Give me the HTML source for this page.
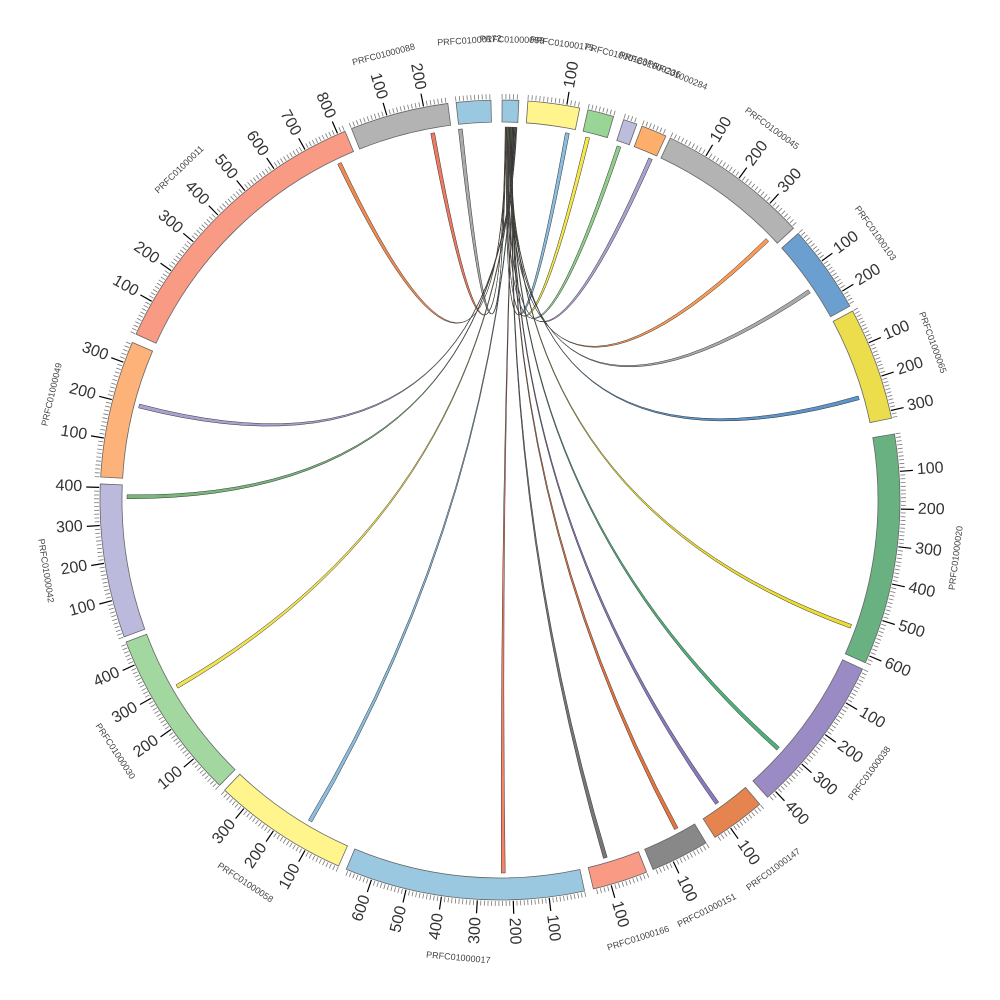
<!DOCTYPE html>
<html><head><meta charset="utf-8"><style>
html,body{margin:0;padding:0;background:#fff;}
svg{display:block;font-family:"Liberation Sans",sans-serif;}
</style></head><body>
<svg id="s" width="1000" height="1000" viewBox="0 0 1000 1000" xmlns="http://www.w3.org/2000/svg"></svg>
<script>
var S=document.getElementById('s');
var CX=500,CY=500,RI=378,RO=400,RC=373;
var segs=[
["PRFC01000089",0.3,2.7,"#9ac8e0"],
["PRFC01000175",4,11.5,"#fff58c",0.056],
["PRFC01000183",12.7,16.5,"#99d594"],
["PRFC01000236",18,20,"#bcbddc"],
["PRFC01000284",20.8,24.5,"#fdae6b"],
["PRFC01000045",25.2,47.2,"#b3b3b3",0.057],
["PRFC01000103",48.2,61,"#6a9fcf",0.052],
["PRFC01000065",61.8,78.2,"#ecdd4c",0.051],
["PRFC01000020",80.5,114,"#6ab181",0.054],
["PRFC01000038",115,138,"#9b8bc4",0.054],
["PRFC01000147",139.5,147.5,"#e5844f"],
["PRFC01000151",149,157.5,"#888888"],
["PRFC01000166",158.5,166.5,"#f99a85"],
["PRFC01000017",167.8,202.6,"#9ac8e0",0.0515],
["PRFC01000058",203.8,223.5,"#fff58c",0.053],
["PRFC01000030",224.5,249.2,"#a2d7a0",0.053],
["PRFC01000042",250,272.3,"#bbb9dc",0.0545],
["PRFC01000049",273.3,293.2,"#fdb279",0.056],
["PRFC01000011",294.5,337.2,"#f99a85",0.052],
["PRFC01000088",338.2,352.5,"#b3b3b3",0.054],
["PRFC01000172",353.7,358.7,"#9ac8e0"]];
function P(r,a){a=a*Math.PI/180;return [CX+r*Math.sin(a),CY-r*Math.cos(a)];}
function f(p){return p[0].toFixed(2)+","+p[1].toFixed(2);}
var h="";
var chords=[
[349.6,"#f07a60"],[353.9,"#aaaaaa"],[334.5,"#f08a50"],[10.4,"#8abde0"],
[13.6,"#f5e84a"],[18.6,"#8fcf8a"],[23.8,"#a9a2d0"],[45.8,"#f99a55"],
[56,"#aaaaaa"],[74.1,"#5b95cc"],[109.8,"#ecdd30"],[131.8,"#4fae7a"],
[144.4,"#8b79c0"],[151.8,"#e5743f"],[163.6,"#777777"],[179.5,"#f7826a"],
[210.6,"#8abde0"],[240,"#f2e350"],[270.5,"#77b77a"],[284.6,"#a9a2d0"]];
chords.forEach(function(c,i){
 var w=0.6,a=c[0]-w/2,b=c[0]+w/2;
 var a1=0.8+i*0.09, a2=a1+0.1;
 var p1=P(RC,a),p2=P(RC,b),q1=P(RC,a1),q2=P(RC,a2);
 h+='<path d="M'+f(p1)+' A'+RC+','+RC+' 0 0 1 '+f(p2)+' Q500,500 '+f(q1)+' A'+RC+','+RC+' 0 0 1 '+f(q2)+' Q500,500 '+f(p1)+'Z" fill="'+c[1]+'" stroke="#333" stroke-width="0.5"/>';
});
segs.forEach(function(s){
 var a=s[1],b=s[2],U=s[4]||0.054,large=(b-a)>180?1:0;
 h+='<path d="M'+f(P(RO,a))+' A'+RO+','+RO+' 0 '+large+' 1 '+f(P(RO,b))+' L'+f(P(RI,b))+' A'+RI+','+RI+' 0 '+large+' 0 '+f(P(RI,a))+'Z" fill="'+s[3]+'" stroke="#666" stroke-width="0.8"/>';
 var L=(b-a)/U;
 for(var v=0;v<=L;v+=10){
  var ang=a+v*U, maj=(v%100==0&&v>0);
  var p1=P(RO+1,ang),p2=P(RO+(maj?14:6),ang);
  h+='<line x1="'+p1[0].toFixed(1)+'" y1="'+p1[1].toFixed(1)+'" x2="'+p2[0].toFixed(1)+'" y2="'+p2[1].toFixed(1)+'" stroke="'+(maj?'#000':'#777')+'" stroke-width="'+(maj?1.2:0.8)+'"/>';
  if(maj&&(b-a)>7){
   var lp=P(RO+18,ang),rot,anc;
   if(ang<180){rot=ang-90;anc="start";}else{rot=ang-270;anc="end";}
   h+='<text x="'+lp[0].toFixed(1)+'" y="'+lp[1].toFixed(1)+'" font-size="16" fill="#333" text-anchor="'+anc+'" dominant-baseline="middle" transform="rotate('+rot.toFixed(1)+' '+lp[0].toFixed(1)+' '+lp[1].toFixed(1)+')">'+v+'</text>';
  }
 }
 var m=(a+b)/2,np=P(460,m),r2=(m>90&&m<270)?m-180:m;
 h+='<text x="'+np[0].toFixed(1)+'" y="'+np[1].toFixed(1)+'" font-size="9" fill="#444" text-anchor="middle" dominant-baseline="middle" transform="rotate('+r2.toFixed(1)+' '+np[0].toFixed(1)+' '+np[1].toFixed(1)+')">'+s[0]+'</text>';
});
S.innerHTML=h;
</script>
</body></html>
